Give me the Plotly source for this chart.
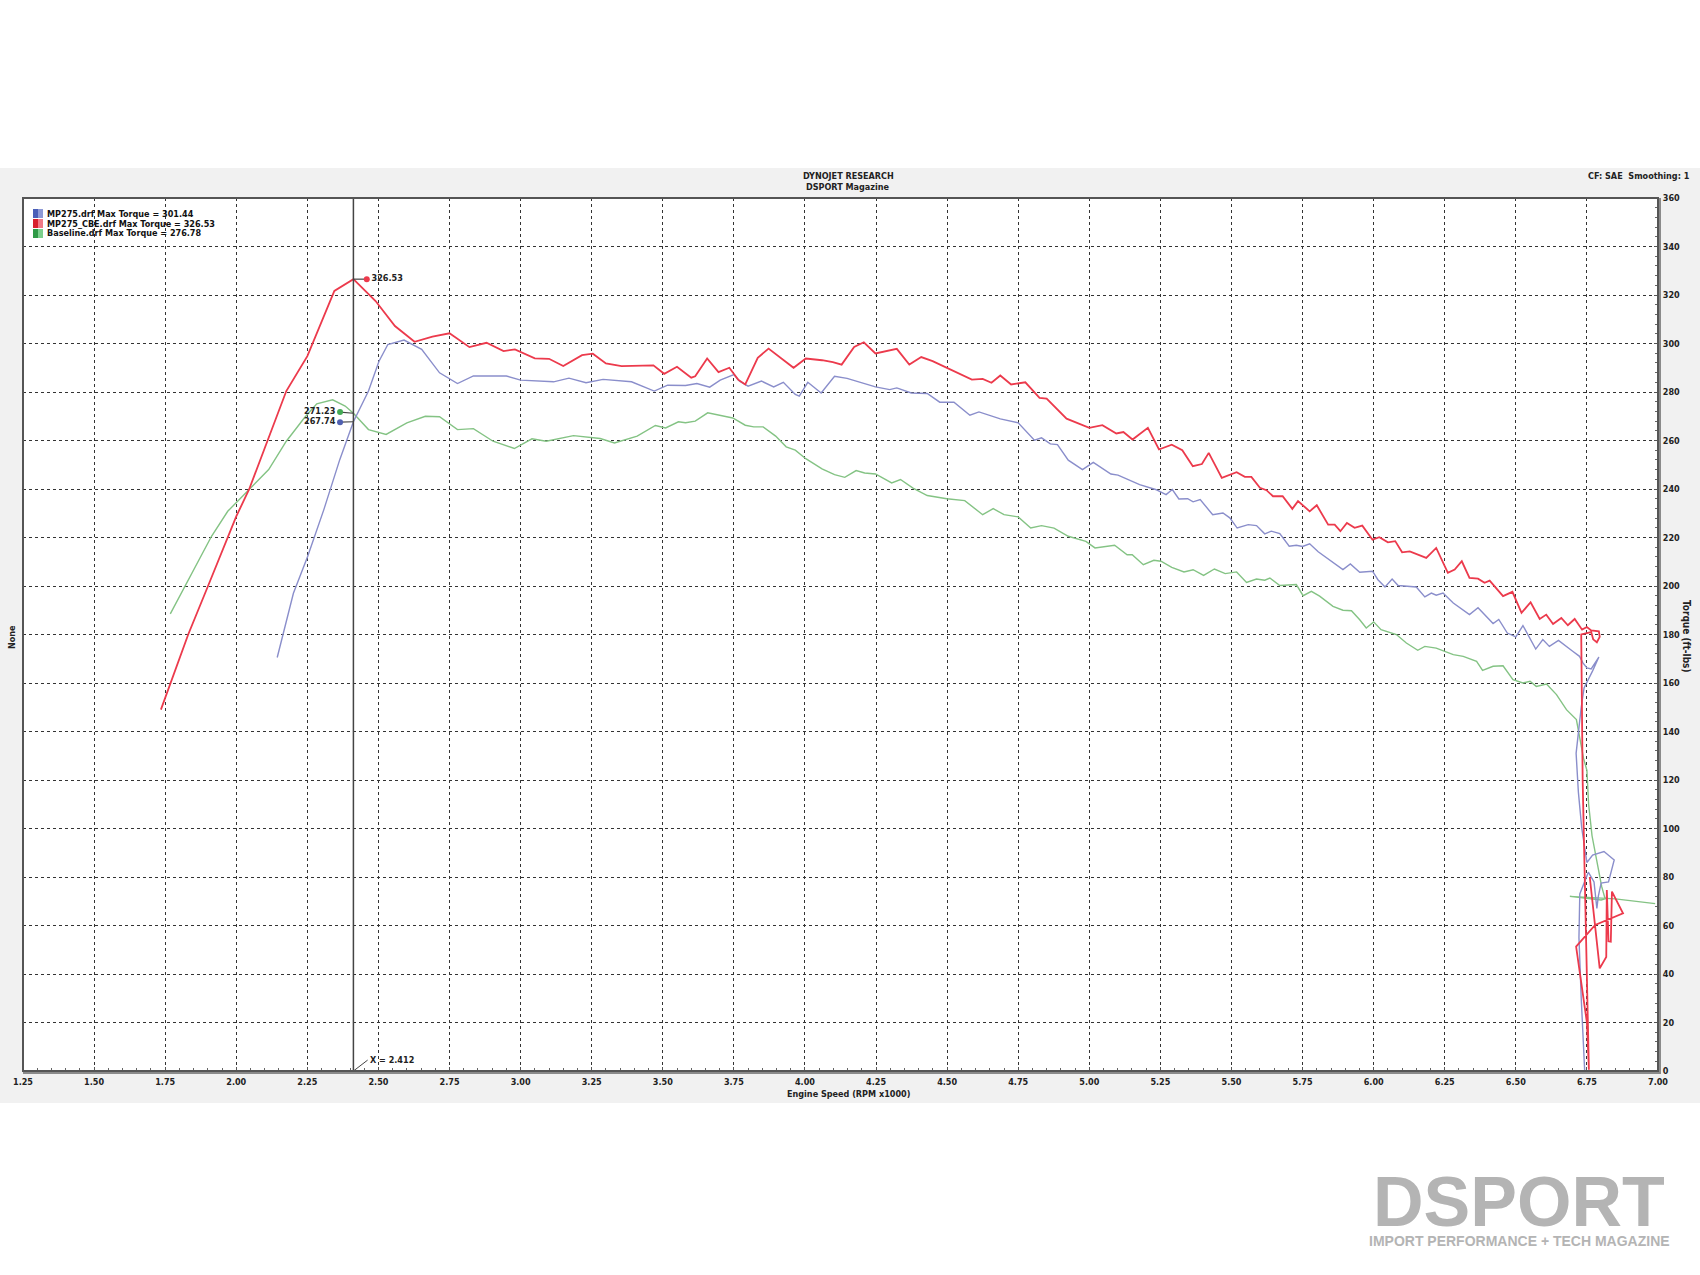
import plotly.graph_objects as go
import numpy as np

# ---------------- data ----------------
red_rpm = [1.735, 1.772, 1.831, 1.90, 2.00, 2.045, 2.107, 2.176, 2.25, 2.275, 2.345, 2.412, 2.49, 2.558, 2.627,
           2.69, 2.75, 2.82, 2.88, 2.94, 2.98, 3.05, 3.10, 3.15, 3.216, 3.254, 3.30, 3.355, 3.417, 3.467, 3.505,
           3.55, 3.60, 3.614, 3.656, 3.696, 3.734, 3.765, 3.79, 3.834, 3.872, 3.916, 3.96, 4.003, 4.06, 4.098,
           4.129, 4.173, 4.207, 4.248, 4.323, 4.367, 4.409, 4.449, 4.499, 4.587, 4.625, 4.656, 4.687, 4.725,
           4.775, 4.825, 4.85, 4.92, 5.00, 5.046, 5.095, 5.12, 5.152, 5.206, 5.245, 5.29, 5.327, 5.364, 5.396,
           5.42, 5.466, 5.518, 5.547, 5.57, 5.60, 5.623, 5.646, 5.68, 5.714, 5.734, 5.775, 5.80, 5.84, 5.863,
           5.883, 5.906, 5.933, 5.96, 5.996, 6.02, 6.05, 6.076, 6.10, 6.127, 6.185, 6.22, 6.261, 6.285, 6.31,
           6.337, 6.367, 6.39, 6.408, 6.455, 6.488, 6.52, 6.552, 6.584, 6.607, 6.631, 6.66, 6.683, 6.707, 6.733,
           6.75, 6.765, 6.792, 6.795, 6.785, 6.772, 6.765, 6.73, 6.735, 6.745, 6.757, 6.75, 6.712, 6.779, 6.877,
           6.838, 6.834, 6.826, 6.82, 6.818, 6.795, 6.76]
red_tq = [149, 161, 180, 199.8, 228.7, 239.8, 259, 280.4, 294.8, 301.7, 321.7, 326.53, 317.5, 307.2, 300.7,
          302.8, 304.2, 298.5, 300.3, 296.9, 297.6, 293.9, 293.7, 290.7, 295.2, 295.8, 291.8, 290.7, 290.7, 291,
          287.5, 290.4, 285.9, 286.5, 293.8, 288.2, 290, 285.1, 283.1, 294.1, 297.9, 294.1, 290, 293.8, 293.1,
          292.3, 291.3, 298.6, 300.5, 295.9, 297.8, 291.3, 294.4, 292.7, 290, 285.1, 285.4, 283.8, 286.8, 283.1,
          284, 277.6, 277.3, 269, 265.2, 266.3, 262.9, 263.5, 260.4, 265.2, 256.3, 258.3, 256, 249.4, 250.3,
          254.9, 244.6, 246.9, 245, 245, 240.5, 239.5, 237, 237, 231.8, 235, 230.8, 233.3, 225.3, 225.3, 222.6,
          226, 224, 224.9, 219.1, 220.1, 218, 218.5, 213.9, 214.3, 211.6, 215.7, 205.4, 206.8, 210.2, 203.3,
          203, 201.3, 202.2, 195.8, 197.6, 188.9, 193.3, 186.4, 188.2, 184.3, 186.8, 183.8, 186.4, 182, 183.1,
          181.7, 181.3, 179, 176.8, 178, 181, 180, 120, 60, 0.5, 20, 51.3, 60.2, 65, 74, 53.3, 53.5, 74.6, 47,
          42.3, 80]

blue_rpm = [2.144, 2.201, 2.251, 2.308, 2.364, 2.412, 2.465, 2.502, 2.533, 2.59, 2.652, 2.715, 2.778, 2.834,
            2.95, 3.00, 3.116, 3.17, 3.23, 3.29, 3.39, 3.47, 3.517, 3.58, 3.62, 3.665, 3.702, 3.75, 3.77, 3.80,
            3.847, 3.89, 3.924, 3.966, 3.98, 4.01, 4.057, 4.104, 4.148, 4.248, 4.298, 4.323, 4.374, 4.43, 4.474,
            4.524, 4.58, 4.612, 4.687, 4.75, 4.807, 4.832, 4.863, 4.888, 4.926, 4.976, 5.014, 5.076, 5.101,
            5.177, 5.233, 5.27, 5.292, 5.315, 5.346, 5.365, 5.39, 5.434, 5.47, 5.494, 5.52, 5.559, 5.588, 5.617,
            5.64, 5.67, 5.703, 5.728, 5.75, 5.775, 5.805, 5.845, 5.892, 5.918, 5.951, 5.996, 6.015, 6.04, 6.065,
            6.086, 6.15, 6.18, 6.203, 6.22, 6.244, 6.28, 6.337, 6.367, 6.42, 6.44, 6.47, 6.50, 6.525, 6.57,
            6.595, 6.618, 6.65, 6.70, 6.724, 6.736, 6.75, 6.765, 6.792, 6.77, 6.74, 6.73, 6.712, 6.72, 6.732,
            6.75, 6.77, 6.81, 6.846, 6.826, 6.80, 6.79, 6.785, 6.775, 6.755, 6.725, 6.722, 6.73, 6.742]
blue_tq = [170.5, 197, 212.2, 231.5, 252.1, 267.74, 280.4, 292.7, 299.6, 301.44, 297.6, 287.9, 283.5, 286.6,
           286.6, 284.9, 284.2, 285.7, 283.8, 285.2, 284.2, 280.4, 282.8, 282.7, 283.5, 282, 284.9, 287.2, 284.5,
           282.4, 284.5, 282.1, 284, 279, 278.3, 284, 279.6, 286.5, 285.6, 282.1, 281, 281.7, 279.6, 279.4, 275.8,
           275.8, 270.4, 271.8, 268.9, 267.3, 260.1, 261.1, 258.6, 258.3, 251.9, 248, 251, 246.2, 245.7, 241.8,
           239.8, 237.7, 239.8, 235.9, 236, 234.7, 235.6, 229.4, 230.1, 228.1, 223.9, 225.3, 224.9, 221.5, 222.6,
           221.6, 216.4, 216.8, 216.3, 217.4, 214.1, 210.9, 206.8, 209.1, 205.7, 206.1, 202.6, 199.6, 202.9,
           200.2, 199.6, 195.5, 197.1, 196.2, 197.1, 193, 188.2, 191, 184.5, 186.2, 180.6, 179, 183.7, 174, 177.9,
           175.1, 177.6, 173.1, 171, 168.3, 166.2, 165.8, 170.7, 165, 158, 150, 131, 115, 100, 86, 89, 90.5, 87,
           78, 77.5, 72, 67, 78, 82, 73, 55, 30, 0.4]

green_rpm = [1.768, 1.831, 1.913, 1.97, 2.045, 2.114, 2.176, 2.239, 2.283, 2.339, 2.383, 2.412, 2.465, 2.527,
             2.60, 2.665, 2.715, 2.778, 2.834, 2.903, 2.978, 3.04, 3.09, 3.186, 3.28, 3.33, 3.41, 3.474, 3.51,
             3.555, 3.58, 3.614, 3.658, 3.709, 3.746, 3.79, 3.82, 3.853, 3.897, 3.934, 3.966, 4.003, 4.06, 4.104,
             4.14, 4.18, 4.21, 4.248, 4.305, 4.336, 4.38, 4.43, 4.499, 4.562, 4.625, 4.662, 4.70, 4.75, 4.794,
             4.832, 4.876, 4.926, 4.988, 5.02, 5.05, 5.089, 5.133, 5.151, 5.19, 5.227, 5.252, 5.29, 5.333, 5.365,
             5.402, 5.44, 5.478, 5.518, 5.553, 5.588, 5.617, 5.635, 5.67, 5.728, 5.752, 5.781, 5.81, 5.857,
             5.892, 5.922, 5.951, 5.974, 6.00, 6.026, 6.08, 6.115, 6.155, 6.18, 6.22, 6.28, 6.315, 6.362, 6.383,
             6.42, 6.455, 6.49, 6.525, 6.55, 6.572, 6.608, 6.643, 6.678, 6.713, 6.728, 6.738, 6.75, 6.756, 6.768,
             6.785, 6.802, 6.814, 6.80, 6.69, 6.85, 6.99]
green_tq = [188.5, 202.6, 220.5, 230.8, 239.8, 248, 259.7, 269.3, 275.1, 276.78, 274.2, 271.23, 264.5, 262.5,
            267.3, 270, 269.8, 264.5, 264.9, 259.7, 256.7, 260.7, 259.7, 262, 260.8, 259, 261.8, 266.2, 265.2,
            267.7, 267.3, 268, 271.4, 270.3, 269.3, 266.3, 265.6, 265.6, 261.8, 257.4, 256, 252.5, 248.3, 245.9,
            244.8, 247.6, 246.6, 246.2, 242.5, 243.9, 240.4, 237.3, 236, 235.2, 229.4, 231.9, 229.4, 228.5, 223.9,
            224.9, 223.9, 220.5, 218.4, 215.7, 216.1, 216.8, 212.9, 212.9, 208.8, 210.6, 210.2, 207.7, 205.8,
            206.7, 204.4, 207, 205.1, 205.8, 201.5, 202.9, 202.4, 203.3, 200.2, 200.6, 196, 197.8, 195.8, 191.6,
            190, 189.8, 186.1, 182.7, 185.2, 182, 180, 176.5, 173.5, 175.1, 174.4, 171.7, 171, 168.9, 165.2,
            166.9, 167.1, 161.4, 160, 160.7, 158.6, 159.6, 155.2, 149, 144.9, 136, 129, 124, 110, 97, 86, 76, 71,
            70.5, 72, 71, 69]

series_names = ["MP275.drf Max Torque = 301.44", "MP275_CBE.drf Max Torque = 326.53", "Baseline.drf Max Torque = 276.78"]
cursor_rpm = 2.412
cursor_values = {"red": 326.53, "green": 271.23, "blue": 267.74}
x_ticks = [1.25 + 0.25 * i for i in range(24)]
y_ticks = list(range(0, 361, 20))

RED = "#ec3a4c"
BLUE = "#8a8ecb"
GREEN = "#84c384"
FONT = "DejaVu Sans Condensed, DejaVu Sans"

W, H = 1700, 1275
L, R, T, B = 23, 42, 198, 204
PW, PH = W - L - R, H - T - B


def px(xp):
    return (xp - L) / PW


def py(yp):
    return (H - B - yp) / PH


fig = go.Figure()
fig.add_trace(go.Scatter(x=green_rpm, y=green_tq, mode="lines", line=dict(color=GREEN, width=1.4), hoverinfo="skip"))
fig.add_trace(go.Scatter(x=blue_rpm, y=blue_tq, mode="lines", line=dict(color=BLUE, width=1.4), hoverinfo="skip"))
fig.add_trace(go.Scatter(x=red_rpm, y=red_tq, mode="lines", line=dict(color=RED, width=1.8), hoverinfo="skip"))

# cursor line
fig.add_trace(go.Scatter(x=[cursor_rpm, cursor_rpm], y=[0, 360], mode="lines",
                         line=dict(color="#444444", width=1.5), hoverinfo="skip"))
# cursor readouts
lbl_dx = 0.047
fig.add_trace(go.Scatter(x=[cursor_rpm, cursor_rpm + lbl_dx], y=[cursor_values["red"]] * 2, mode="lines",
                         line=dict(color="#444444", width=1.2), hoverinfo="skip"))
fig.add_trace(go.Scatter(x=[cursor_rpm, cursor_rpm - lbl_dx], y=[cursor_values["green"], cursor_values["green"] + 0.5],
                         mode="lines", line=dict(color="#444444", width=1.2), hoverinfo="skip"))
fig.add_trace(go.Scatter(x=[cursor_rpm, cursor_rpm - lbl_dx], y=[cursor_values["blue"], cursor_values["blue"] - 0.2],
                         mode="lines", line=dict(color="#444444", width=1.2), hoverinfo="skip"))
fig.add_trace(go.Scatter(
    x=[cursor_rpm + lbl_dx, cursor_rpm - lbl_dx, cursor_rpm - lbl_dx],
    y=[cursor_values["red"], cursor_values["green"] + 0.5, cursor_values["blue"] - 0.2],
    mode="markers+text",
    marker=dict(color=[RED, "#44aa55", "#5060b0"], size=6),
    text=["%.2f" % cursor_values["red"], "%.2f" % cursor_values["green"], "%.2f" % cursor_values["blue"]],
    textposition=["middle right", "middle left", "middle left"],
    textfont=dict(family=FONT, size=9, color="#222222", weight="bold"),
    hoverinfo="skip"))
# X = readout at bottom
fig.add_trace(go.Scatter(x=[cursor_rpm, cursor_rpm + 0.05], y=[0, 4.5], mode="lines",
                         line=dict(color="#444444", width=1), hoverinfo="skip"))
fig.add_annotation(x=cursor_rpm + 0.05, y=4.5, xref="x", yref="y", text="X = %.3f" % cursor_rpm,
                   showarrow=False, xanchor="left", yanchor="middle",
                   font=dict(family=FONT, size=9, color="#222222", weight="bold"))

shapes = []
# gray panel + white plot area
shapes.append(dict(type="rect", xref="paper", yref="paper", x0=px(0), x1=px(W), y0=py(1103), y1=py(168),
                   fillcolor="#f1f1f1", line=dict(width=0), layer="below"))
shapes.append(dict(type="rect", xref="paper", yref="paper", x0=0, x1=1, y0=0, y1=1,
                   fillcolor="#ffffff", line=dict(width=0), layer="below"))
# frame
shapes.append(dict(type="rect", xref="paper", yref="paper", x0=0, x1=1, y0=0, y1=1,
                   fillcolor="rgba(0,0,0,0)", line=dict(color="#555555", width=2), layer="above"))
# legend swatches
legend_cols = [("#4a5fb8", "#8e9ad6"), ("#d8202c", "#f07a86"), ("#2e9a46", "#7ccf8c")]
for i, (c1, c2) in enumerate(legend_cols):
    y0 = 209 + 10 * i
    shapes.append(dict(type="rect", xref="paper", yref="paper", x0=px(33), x1=px(38), y0=py(y0 + 9), y1=py(y0),
                       fillcolor=c1, line=dict(width=0)))
    shapes.append(dict(type="rect", xref="paper", yref="paper", x0=px(38), x1=px(43), y0=py(y0 + 9), y1=py(y0),
                       fillcolor=c2, line=dict(width=0)))
    fig.add_annotation(xref="paper", yref="paper", x=px(45), y=py(y0 + 4.5), text=series_names[i],
                       showarrow=False, xanchor="left", yanchor="middle",
                       font=dict(family=FONT, size=9, color="#111111", weight="bold"))

# header texts
fig.add_annotation(xref="paper", yref="paper", x=px(848), y=py(176), text="DYNOJET RESEARCH", showarrow=False,
                   xanchor="center", yanchor="middle", font=dict(family=FONT, size=9, color="#222", weight="bold"))
fig.add_annotation(xref="paper", yref="paper", x=px(848), y=py(187), text="DSPORT Magazine", showarrow=False,
                   xanchor="center", yanchor="middle", font=dict(family=FONT, size=9, color="#222", weight="bold"))
fig.add_annotation(xref="paper", yref="paper", x=px(1692), y=py(176), text="CF: SAE  Smoothing: 1", showarrow=False,
                   xanchor="right", yanchor="middle", font=dict(family=FONT, size=9, color="#222", weight="bold"))
# axis titles
fig.add_annotation(xref="paper", yref="paper", x=px(848), y=py(1094), text="Engine Speed (RPM x1000)",
                   showarrow=False, xanchor="center", yanchor="middle",
                   font=dict(family=FONT, size=9, color="#222", weight="bold"))
fig.add_annotation(xref="paper", yref="paper", x=px(1687), y=py(637), text="Torque (ft-lbs)", textangle=90,
                   showarrow=False, xanchor="center", yanchor="middle",
                   font=dict(family=FONT, size=10, color="#222", weight="bold"))
fig.add_annotation(xref="paper", yref="paper", x=px(12), y=py(637), text="None", textangle=-90,
                   showarrow=False, xanchor="center", yanchor="middle",
                   font=dict(family=FONT, size=9, color="#222", weight="bold"))
# logo
fig.add_annotation(xref="paper", yref="paper", x=px(1519), y=py(1202), text="DSPORT", showarrow=False,
                   xanchor="center", yanchor="middle",
                   font=dict(family="Liberation Sans, Arial", size=70, color="#b4b4b4", weight=900))
fig.add_annotation(xref="paper", yref="paper", x=px(1519), y=py(1241), text="IMPORT PERFORMANCE + TECH MAGAZINE",
                   showarrow=False, xanchor="center", yanchor="middle",
                   font=dict(family="Liberation Sans Narrow, Liberation Sans", size=14, color="#b4b4b4", weight="bold"))

fig.update_layout(
    width=W, height=H, margin=dict(l=L, r=R, t=T, b=B, pad=0),
    paper_bgcolor="#ffffff", plot_bgcolor="rgba(0,0,0,0)",
    showlegend=False, shapes=shapes,
    xaxis=dict(range=[1.25, 7.0], tickvals=x_ticks, ticktext=["%.2f" % v for v in x_ticks],
               showgrid=True, gridcolor="#333333", gridwidth=1, griddash="dot", zeroline=False,
               showline=True, linecolor="#8a8a8a", linewidth=3, ticks="inside", ticklen=4, tickcolor="#555",
               minor=dict(dtick=0.05, tick0=1.25, ticks="inside", ticklen=3, tickcolor="#666", showgrid=False),
               tickfont=dict(family=FONT, size=9, color="#222", weight="bold"), fixedrange=True),
    yaxis=dict(range=[0, 360], side="right", tickvals=y_ticks, ticktext=[str(v) for v in y_ticks],
               showgrid=True, gridcolor="#333333", gridwidth=1, griddash="dot", zeroline=False,
               showline=True, linecolor="#8a8a8a", linewidth=3, ticks="inside", ticklen=4, tickcolor="#555",
               minor=dict(dtick=4, ticks="inside", ticklen=3, tickcolor="#666", showgrid=False),
               tickfont=dict(family=FONT, size=9, color="#222", weight="bold"), fixedrange=True),
)

fig.write_html("out.html", config={"displayModeBar": False},
               post_script="document.body.style.margin='0px';document.body.style.overflow='hidden';")
